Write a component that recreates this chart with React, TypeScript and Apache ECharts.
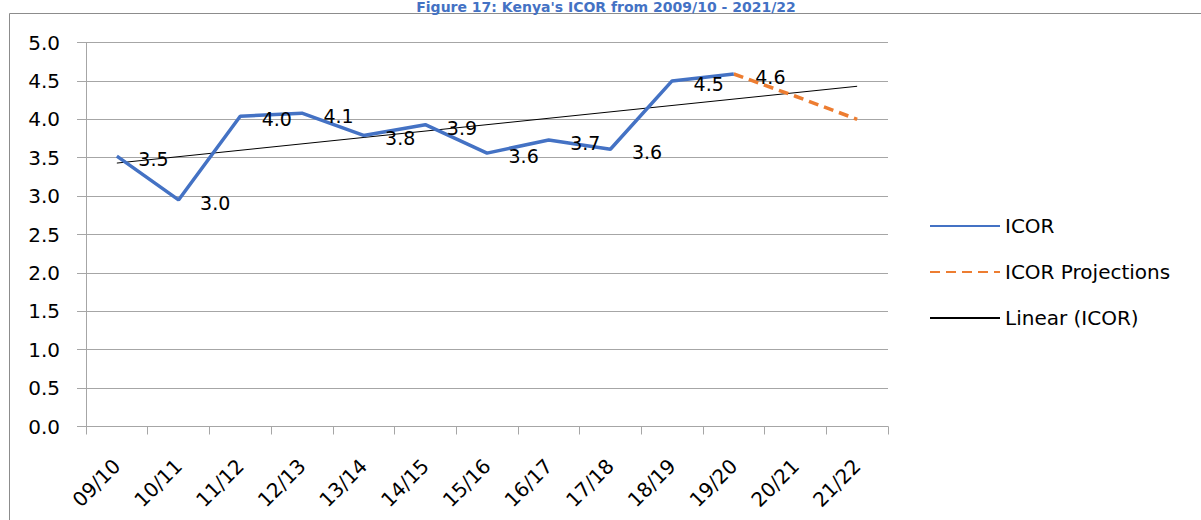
import React, { useEffect, useRef } from "react";
import * as echarts from "echarts";

const categories = ["09/10", "10/11", "11/12", "12/13", "13/14", "14/15", "15/16", "16/17", "17/18", "18/19", "19/20", "20/21", "21/22"];
const icor = [3.52, 2.95, 4.04, 4.08, 3.79, 3.93, 3.56, 3.73, 3.61, 4.5, 4.59, null, null];
const projections = [null, null, null, null, null, null, null, null, null, null, 4.59, 4.3, 4.0];
const trendStart = 3.43;
const trendEnd = 4.43;
const trend = categories.map((_, i) => (i === 0 ? trendStart : i === categories.length - 1 ? trendEnd : null));
const yTicks = { min: 0, max: 5, interval: 0.5 };
const title = "Figure 17: Kenya's ICOR from 2009/10 - 2021/22";

const FONT = "DejaVu Sans";

export default function App() {
  const ref = useRef<HTMLDivElement>(null);
  useEffect(() => {
    const chart = echarts.init(ref.current!, null, { renderer: "svg" });
    chart.setOption({
      animation: false,
      backgroundColor: "#ffffff",
      textStyle: { fontFamily: FONT },
      grid: { left: 86, right: 313, top: 42.5, bottom: 93.5, containLabel: false },
      graphic: [
        { type: "line", shape: { x1: 9.5, y1: 13.5, x2: 1201, y2: 13.5 }, style: { stroke: "#8c8c8c", lineWidth: 1 } },
        { type: "line", shape: { x1: 9.5, y1: 13.5, x2: 9.5, y2: 520 }, style: { stroke: "#8c8c8c", lineWidth: 1 } },
        {
          type: "text",
          x: 606,
          y: 6.5,
          style: {
            text: title,
            fill: "#4472C4",
            font: `bold 14px ${FONT}`,
            align: "center",
            verticalAlign: "middle",
          },
        },
      ],
      legend: {
        orient: "vertical",
        left: 924,
        top: 211,
        itemWidth: 70,
        itemHeight: 14,
        itemGap: 26,
        textStyle: { fontFamily: FONT, fontSize: 20, color: "#000" },
        data: ["ICOR", "ICOR Projections", "Linear (ICOR)"],
      },
      xAxis: {
        type: "category",
        data: categories,
        boundaryGap: true,
        axisLine: { lineStyle: { color: "#a6a6a6", width: 1 } },
        axisTick: { show: true, length: 8, lineStyle: { color: "#a6a6a6" } },
        axisLabel: { rotate: 45, fontSize: 20, color: "#000", fontFamily: FONT, margin: 36, interval: 0 },
      },
      yAxis: {
        type: "value",
        min: yTicks.min,
        max: yTicks.max,
        interval: yTicks.interval,
        axisLine: { show: true, lineStyle: { color: "#a6a6a6", width: 1 } },
        axisTick: { show: true, length: 9, lineStyle: { color: "#a6a6a6" } },
        axisLabel: { fontSize: 20, color: "#000", fontFamily: FONT, margin: 26, formatter: (v: number) => v.toFixed(1) },
        splitLine: { lineStyle: { color: "#a6a6a6", width: 1 } },
      },
      series: [
        {
          name: "Linear (ICOR)",
          type: "line",
          data: trend,
          connectNulls: true,
          symbol: "circle",
          symbolSize: 1,
          lineStyle: { color: "#000", width: 1 },
          itemStyle: { color: "transparent", borderWidth: 0 },
          z: 1,
        },
        {
          name: "ICOR",
          type: "line",
          data: icor,
          symbol: "circle",
          symbolSize: 1,
          showSymbol: true,
          lineStyle: { color: "#4472C4", width: 3.5 },
          itemStyle: { color: "transparent", borderWidth: 0 },
          label: {
            show: true,
            position: "right",
            distance: 21,
            offset: [0, 3],
            fontSize: 19,
            color: "#000",
            fontFamily: FONT,
            formatter: (p: any) => (p.value == null ? "" : Number(p.value).toFixed(1)),
          },
          z: 3,
        },
        {
          name: "ICOR Projections",
          type: "line",
          data: projections,
          symbol: "circle",
          symbolSize: 1,
          lineStyle: { color: "#ED7D31", width: 3.5, type: [10, 6] },
          itemStyle: { color: "transparent", borderWidth: 0 },
          z: 2,
        },
      ],
    });
    return () => chart.dispose();
  }, []);
  return <div ref={ref} style={{ position: "fixed", left: 0, top: 0, width: 1201, height: 520 }} />;
}
